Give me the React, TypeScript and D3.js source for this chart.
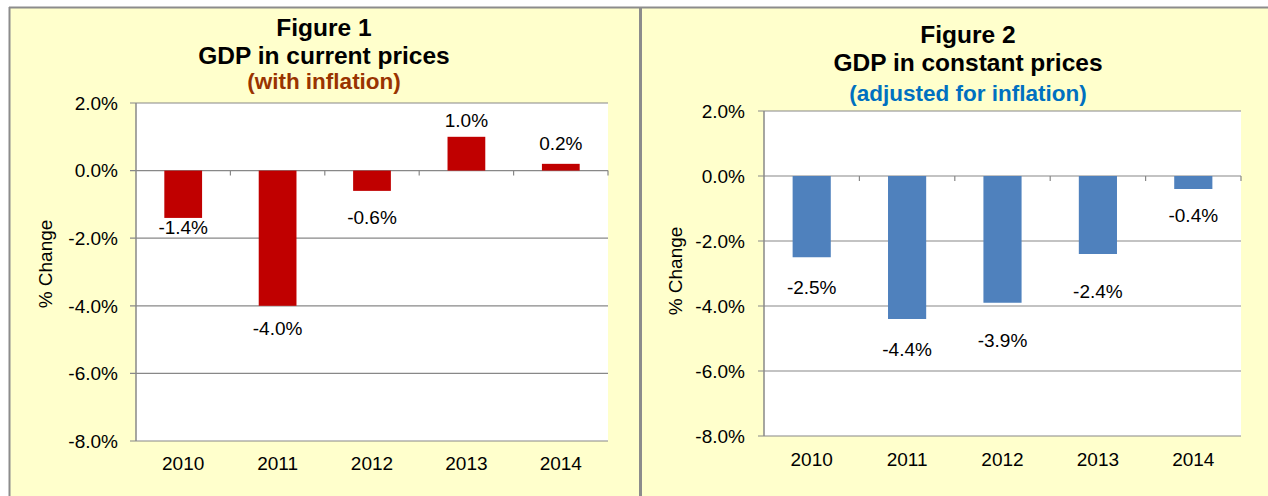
import React, { useEffect, useRef } from 'react';
import * as d3 from 'd3';

// chart data
const years = ['2010', '2011', '2012', '2013', '2014'];
const currentPrices = [-1.4, -4.0, -0.6, 1.0, 0.2];
const constantPrices = [-2.5, -4.4, -3.9, -2.4, -0.4];
const yTicks = [-8, -6, -4, -2, 0, 2];

// hand placed data labels in the original (px from bar end)
const currentLabelDy = [16, 29, 33, -10, -14];
const constantLabelDy = [37, 37, 44, 44, 33];

const FONT = "'Liberation Sans', Arial, sans-serif";
const GRID = '#888888';

// Excel style: plain hyphen, one decimal
const pct = (v: number) => v.toFixed(1) + '%';

type Panel = {
  values: number[];
  labelDy: number[];
  color: string;
  title: string[];
  subColor: string;
  titleX: number;
  titleY: number[];
  left: number;
  right: number;
  top: number;
  bottom: number;
  labelRight: number;
  axisTitle: [number, number];
  xLabelY: number;
};

const drawPanel = (svg: any, p: Panel) => {
  const g = svg.append('g');

  const x = d3.scaleBand().domain(years).range([p.left, p.right]).paddingInner(0).paddingOuter(0);
  const y = d3.scaleLinear().domain([-8, 2]).range([p.bottom, p.top]);

  // plot area
  g.append('rect')
    .attr('x', p.left)
    .attr('y', p.top)
    .attr('width', p.right - p.left)
    .attr('height', p.bottom - p.top)
    .attr('fill', '#ffffff');

  // gridlines + left ticks
  g.selectAll('.grid')
    .data(yTicks)
    .enter()
    .append('line')
    .attr('x1', p.left - 6)
    .attr('x2', p.right)
    .attr('y1', d => y(d))
    .attr('y2', d => y(d))
    .attr('stroke', GRID)
    .attr('stroke-width', 1.2);

  // y axis line
  g.append('line')
    .attr('x1', p.left)
    .attr('x2', p.left)
    .attr('y1', p.top)
    .attr('y2', p.bottom)
    .attr('stroke', GRID)
    .attr('stroke-width', 1.5);

  // y tick labels
  g.selectAll('.ylab')
    .data(yTicks)
    .enter()
    .append('text')
    .attr('x', p.labelRight)
    .attr('y', d => y(d))
    .attr('dy', '0.36em')
    .attr('text-anchor', 'end')
    .attr('font-family', FONT)
    .attr('font-size', 19)
    .attr('fill', '#000')
    .text(d => pct(d));

  // bars
  g.selectAll('.bar')
    .data(p.values)
    .enter()
    .append('rect')
    .attr('x', (d, i) => x(years[i])! + x.bandwidth() * 0.3)
    .attr('width', x.bandwidth() * 0.4)
    .attr('y', d => y(Math.max(0, d)))
    .attr('height', d => Math.abs(y(d) - y(0)))
    .attr('fill', p.color);

  // category ticks on the zero line
  g.selectAll('.ctick')
    .data(years)
    .enter()
    .append('line')
    .attr('x1', d => x(d)! + x.bandwidth())
    .attr('x2', d => x(d)! + x.bandwidth())
    .attr('y1', y(0))
    .attr('y2', y(0) + 5)
    .attr('stroke', GRID)
    .attr('stroke-width', 1.2);

  // data labels
  g.selectAll('.dlab')
    .data(p.values)
    .enter()
    .append('text')
    .attr('x', (d, i) => x(years[i])! + x.bandwidth() / 2)
    .attr('y', (d, i) => y(d) + p.labelDy[i])
    .attr('text-anchor', 'middle')
    .attr('font-family', FONT)
    .attr('font-size', 19)
    .attr('fill', '#000')
    .text(d => pct(d));

  // x labels
  g.selectAll('.xlab')
    .data(years)
    .enter()
    .append('text')
    .attr('x', d => x(d)! + x.bandwidth() / 2)
    .attr('y', p.xLabelY)
    .attr('text-anchor', 'middle')
    .attr('font-family', FONT)
    .attr('font-size', 19)
    .attr('fill', '#000')
    .text(d => d);

  // axis title
  g.append('text')
    .attr('transform', `translate(${p.axisTitle[0]},${p.axisTitle[1]}) rotate(-90)`)
    .attr('dy', '0.36em')
    .attr('text-anchor', 'middle')
    .attr('font-family', FONT)
    .attr('font-size', 19)
    .attr('fill', '#000')
    .text('% Change');

  // titles
  p.title.forEach((t, i) => {
    g.append('text')
      .attr('x', p.titleX)
      .attr('y', p.titleY[i])
      .attr('text-anchor', 'middle')
      .attr('font-family', FONT)
      .attr('font-weight', 'bold')
      .attr('font-size', i < 2 ? 24.5 : 22.5)
      .attr('fill', i < 2 ? '#000' : p.subColor)
      .text(t);
  });
};

const App = () => {
  const svgRef = useRef<SVGSVGElement>(null);

  useEffect(() => {
    d3.select(svgRef.current).selectAll('*').remove();
    const svg = d3.select(svgRef.current);

    // yellow sheet + frame
    svg.append('rect').attr('x', 9).attr('y', 7).attr('width', 1259).attr('height', 489).attr('fill', '#FFFFCC');
    svg.append('line').attr('x1', 9).attr('x2', 1268).attr('y1', 7.5).attr('y2', 7.5).attr('stroke', '#8c8c8c').attr('stroke-width', 2);
    svg.append('line').attr('x1', 9.5).attr('x2', 9.5).attr('y1', 7).attr('y2', 496).attr('stroke', '#8c8c8c').attr('stroke-width', 2);
    svg.append('line').attr('x1', 640.5).attr('x2', 640.5).attr('y1', 7).attr('y2', 496).attr('stroke', '#8c8c8c').attr('stroke-width', 3);

    drawPanel(svg, {
      values: currentPrices,
      labelDy: currentLabelDy,
      color: '#C00000',
      title: ['Figure 1', 'GDP in current prices', '(with inflation)'],
      subColor: '#993300',
      titleX: 324,
      titleY: [36, 64, 89],
      left: 136,
      right: 608,
      top: 103,
      bottom: 441,
      labelRight: 118,
      axisTitle: [45, 264],
      xLabelY: 470,
    });

    drawPanel(svg, {
      values: constantPrices,
      labelDy: constantLabelDy,
      color: '#4F81BD',
      title: ['Figure 2', 'GDP in constant prices', '(adjusted for inflation)'],
      subColor: '#0070C0',
      titleX: 968,
      titleY: [43, 71, 101],
      left: 764,
      right: 1241,
      top: 111,
      bottom: 436,
      labelRight: 745,
      axisTitle: [675, 271],
      xLabelY: 466,
    });
  }, []);

  return (
    <svg
      ref={svgRef}
      width={1268}
      height={496}
      style={{ position: 'absolute', left: 0, top: 0, background: '#ffffff' }}
    />
  );
};

export default App;
